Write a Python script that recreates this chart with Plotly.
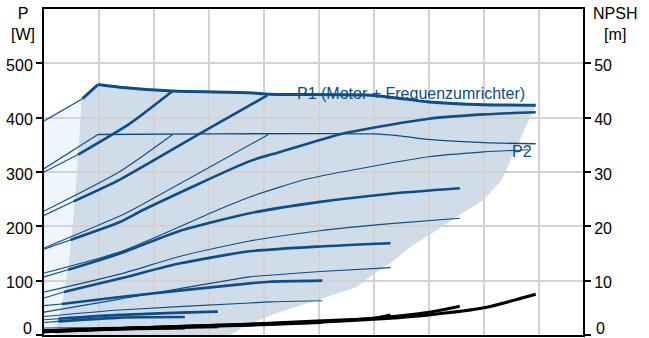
import plotly.graph_objects as go

# ---------------------------------------------------------------------------
# Pump characteristic: flow Q [m³/h] (not labelled), power P [W], NPSH [m]
# ---------------------------------------------------------------------------

# maximum input power P1 (motor + frequency converter) and maximum P2
p1_max_q = [0.35, 0.49, 0.69, 1.17, 1.87, 2.05, 3.0, 3.5, 4.0, 4.47]
p1_max_w = [435, 461, 456, 449, 446, 443, 441, 429, 424, 423]
p2_max_q = [0.49, 1.5, 3.0, 3.25, 3.5, 4.0, 4.47]
p2_max_w = [369, 370, 370, 366, 360, 354, 352]

# P1 per speed step; 1st point on the P axis, 2nd on the edge of the operating range
p1_a_q = [0, 0.35]
p1_a_w = [394, 435]
p1_b_q = [0, 0.31, 0.78, 1.17]
p1_b_w = [300, 332, 389, 449]
p1_c_q = [0, 0.27, 0.69, 1.42, 2.03]
p1_c_w = [220, 246, 286, 371, 441]
p1_d_q = [0, 0.24, 0.69, 0.9, 1.87, 2.15, 2.72, 3.5, 4.0, 4.47]
p1_d_w = [158, 175, 208, 230, 320, 337, 371, 398, 406, 410]
p1_e_q = [0, 0.22, 0.69, 1.24, 1.87, 2.51, 3.15, 3.78]
p1_e_w = [107, 120, 150, 192, 224, 245, 260, 270]
p1_f_q = [0, 0.18, 0.69, 1.24, 1.87, 2.51, 3.15]
p1_f_w = [68, 79, 104, 132, 154, 163, 169]
p1_g_q = [0, 0.16, 0.69, 1.87, 2.05, 2.53]
p1_g_w = [54, 57, 70, 95, 98, 100]
p1_h_q = [0, 0.13, 0.69, 1.58]
p1_h_w = [28, 30, 37, 43]
p1_i_q = [0, 0.13, 0.69, 1.28]
p1_i_w = [23, 25, 32, 33]

# P2 per speed step
p2_a_q = [0, 0.49]
p2_a_w = [306, 369]
p2_b_q = [0, 0.69, 1.17]
p2_b_w = [228, 301, 369]
p2_c_q = [0, 0.69, 0.8, 2.04]
p2_c_w = [160, 219, 230, 369]
p2_d_q = [0, 0.69, 1.6, 1.87, 2.39, 3.0, 3.5, 4.0, 4.4]
p2_d_w = [114, 153, 232, 254, 287, 311, 328, 337, 341]
p2_e_q = [0, 0.69, 1.24, 1.87, 2.51, 3.15, 3.78]
p2_e_w = [79, 112, 145, 173, 192, 205, 215]
p2_f_q = [0, 0.69, 1.87, 2.05, 2.51, 3.15]
p2_f_w = [42, 66, 107, 110, 117, 124]
p2_g_q = [0, 0.69, 1.87, 2.05, 2.53]
p2_g_w = [34, 46, 59, 61, 63]
p2_h_q = [0, 0.69, 1.58]
p2_h_w = [13, 14, 15]
p2_i_q = [0, 0.69, 1.28]
p2_i_w = [10, 11, 12]

# NPSH per speed step [m]
npsh_a_q = [0, 0.69, 1.87, 2.53, 3.0, 3.5, 4.0, 4.47]
npsh_a_m = [0.6, 1.1, 1.9, 2.4, 2.9, 3.7, 5.0, 7.5]
npsh_b_q = [0, 0.69, 1.87, 2.53, 3.0, 3.5, 3.78]
npsh_b_m = [0.6, 1.2, 2.0, 2.5, 3.1, 4.2, 5.3]
npsh_c_q = [0, 0.69, 1.87, 2.53, 3.0, 3.15]
npsh_c_m = [0.7, 1.2, 2.0, 2.6, 3.1, 3.7]
npsh_d_q = [0, 0.69, 1.87, 2.53]
npsh_d_m = [0.7, 1.2, 1.8, 2.3]
npsh_e_q = [0, 0.69, 1.58]
npsh_e_m = [0.8, 1.2, 1.5]
npsh_f_q = [0, 0.69, 1.28]
npsh_f_m = [0.8, 1.1, 1.3]

# operating range: left edge (top -> bottom), lower/right edge (bottom -> top)
range_left_q = [0.345, 0.336, 0.30, 0.264, 0.218, 0.164, 0.118, 0.10]
range_left_w = [435, 414, 300, 210, 120, 55, 18, 0]
range_right_q = [1.69, 1.87, 2.15, 2.48, 2.85, 2.96, 3.15, 3.33, 3.57, 3.75, 3.99, 4.16, 4.47]
range_right_w = [0, 21, 43, 64, 89, 107, 132, 162, 193, 217, 248, 285, 423]

# axis ticks (the zero labels sit on the bottom edge and are placed separately)
p_ticks = [0, 100, 200, 300, 400, 500]
p_labels = ["", "100", "200", "300", "400", "500"]
npsh_ticks = [0, 10, 20, 30, 40, 50]
npsh_labels = ["", "10", "20", "30", "40", "50"]

BLUE = "#0c4d8a"
FONT = "Liberation Sans, Arial, sans-serif"


def svg_path(qs, ws):
    pts = " L ".join(f"{q},{w}" for q, w in zip(qs, ws))
    return f"M {pts} Z"


fig = go.Figure()

# filled areas below the grid
dark_q = p1_max_q + range_right_q[::-1][1:] + range_left_q[::-1]
dark_w = p1_max_w + range_right_w[::-1][1:] + range_left_w[::-1]
light_q = [0, 0] + range_left_q
light_w = [0, p1_a_w[0]] + range_left_w

shapes = [
    dict(type="path", path=svg_path(light_q, light_w), xref="x", yref="y",
         fillcolor="#eef5fc", line=dict(width=0), layer="below"),
    dict(type="path", path=svg_path(dark_q, dark_w), xref="x", yref="y",
         fillcolor="#d0dce8", line=dict(width=0), layer="below"),
]


def line(q, w, width, color=BLUE, yaxis="y", smooth=True):
    shape = "spline" if (smooth and len(q) > 2) else "linear"
    fig.add_trace(go.Scatter(
        x=q, y=w, mode="lines", yaxis=yaxis, hoverinfo="skip",
        line=dict(color=color, width=width, shape=shape, smoothing=0.6),
        showlegend=False))


# NPSH curves (right axis)
for q, m in [(npsh_a_q, npsh_a_m), (npsh_b_q, npsh_b_m), (npsh_c_q, npsh_c_m),
             (npsh_d_q, npsh_d_m), (npsh_e_q, npsh_e_m), (npsh_f_q, npsh_f_m)]:
    line(q, m, 3, color="#000000", yaxis="y2")

# P2 curves (thin)
for q, w in [(p2_a_q, p2_a_w), (p2_b_q, p2_b_w), (p2_c_q, p2_c_w),
             (p2_d_q, p2_d_w), (p2_e_q, p2_e_w), (p2_f_q, p2_f_w),
             (p2_g_q, p2_g_w), (p2_h_q, p2_h_w), (p2_i_q, p2_i_w)]:
    line(q, w, 1.1)
line(p2_max_q[:2], p2_max_w[:2], 1.3, smooth=False)
line(p2_max_q[1:], p2_max_w[1:], 1.3)

# P1 curves: thin outside the operating range, thick inside
for q, w in [(p1_a_q, p1_a_w), (p1_b_q, p1_b_w), (p1_c_q, p1_c_w),
             (p1_d_q, p1_d_w), (p1_e_q, p1_e_w), (p1_f_q, p1_f_w),
             (p1_g_q, p1_g_w), (p1_h_q, p1_h_w), (p1_i_q, p1_i_w)]:
    line(q[:2], w[:2], 1.1)
    if len(q) > 2:
        line(q[1:], w[1:], 2.6)
# maximum P1: sharp rise to the peak, then a smooth fall
line(p1_max_q[:2], p1_max_w[:2], 3, smooth=False)
line(p1_max_q[1:], p1_max_w[1:], 3)

TXT = dict(family=FONT, size=16, color="#000")
annotations = [
    dict(text="P1 (Motor + Frequenzumrichter)", x=2.28, y=445, xref="x", yref="y",
         xanchor="left", yanchor="middle", showarrow=False,
         font=dict(family=FONT, size=16, color=BLUE)),
    dict(text="P2", x=4.24, y=338, xref="x", yref="y",
         xanchor="left", yanchor="middle", showarrow=False,
         font=dict(family=FONT, size=16, color=BLUE)),
    # axis titles
    dict(text="P<br>[W]", x=-0.0395, y=1.017, xref="paper", yref="paper",
         xanchor="center", yanchor="top", showarrow=False, align="center", font=TXT),
    dict(text="NPSH<br>[m]", x=1.06, y=1.017, xref="paper", yref="paper",
         xanchor="center", yanchor="top", showarrow=False, align="center", font=TXT),
    # zero labels of both axes, kept inside the picture
    dict(text="0", x=-0.0204, y=-0.0092, xref="paper", yref="paper", borderpad=0,
         xanchor="right", yanchor="bottom", showarrow=False, font=TXT),
    dict(text="0", x=1.0223, y=-0.0092, xref="paper", yref="paper", borderpad=0,
         xanchor="left", yanchor="bottom", showarrow=False, font=TXT),
]

GRID = "#d2d2d2"
fig.update_layout(
    width=649, height=338,
    margin=dict(l=44, r=66, t=9, b=3, pad=0, autoexpand=False),
    paper_bgcolor="white", plot_bgcolor="white",
    font=dict(family=FONT, size=16, color="#000"),
    shapes=shapes, annotations=annotations,
    xaxis=dict(range=[0, 4.9], dtick=0.5, tick0=0, showticklabels=False, ticks="",
               showgrid=True, gridcolor=GRID, gridwidth=1.5, zeroline=False,
               showline=True, linecolor="#000", linewidth=2, mirror=True,
               automargin=False),
    yaxis=dict(range=[0, 600], tickvals=p_ticks, ticktext=p_labels, ticks="outside",
               ticklen=6, tickwidth=2, tickcolor="#000", showgrid=True,
               gridcolor=GRID, gridwidth=1.5, zeroline=False, showline=True,
               linecolor="#000", linewidth=2, ticklabelshift=2, automargin=False),
    yaxis2=dict(range=[0, 60], tickvals=npsh_ticks, ticktext=npsh_labels,
                overlaying="y", side="right", ticks="outside", ticklen=6,
                tickwidth=2, tickcolor="#000", showgrid=False, zeroline=False,
                showline=True, linecolor="#000", linewidth=2, ticklabelshift=2,
                automargin=False),
)

fig.write_html("out.html")
